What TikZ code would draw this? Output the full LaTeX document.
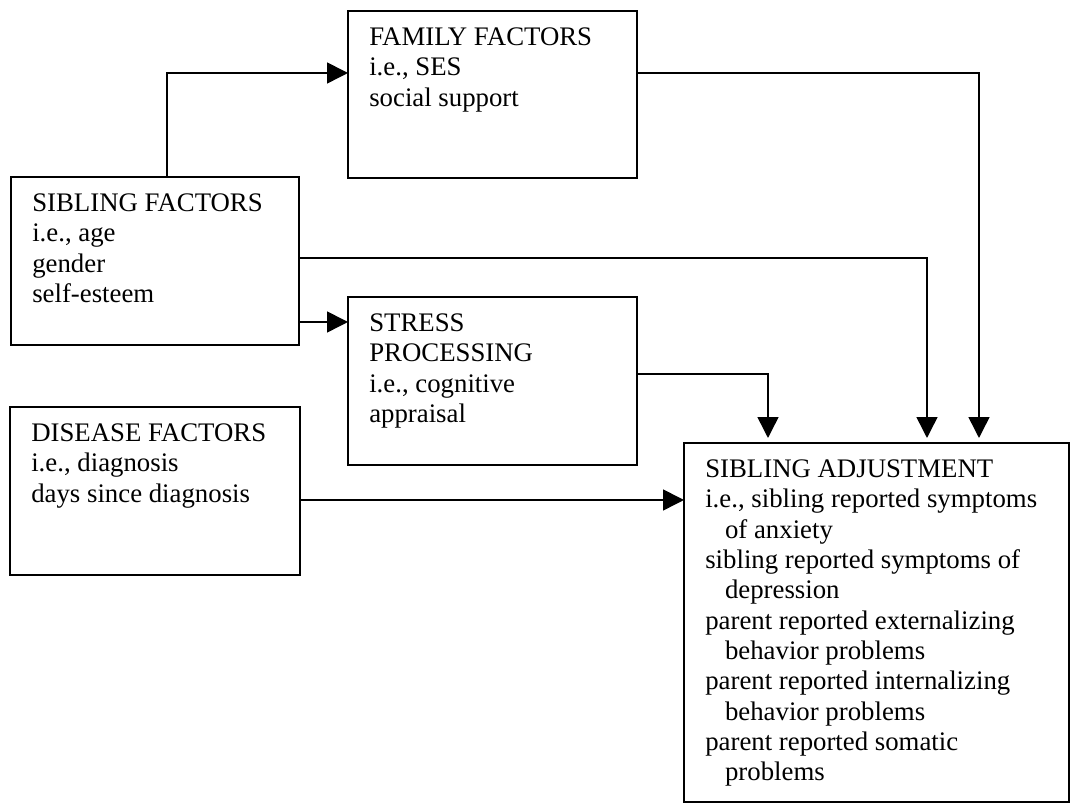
\documentclass[tikz,border=0pt]{standalone}
\usepackage{fontspec}
\setmainfont{Liberation Serif}
\usepackage{tikz}
\usetikzlibrary{arrows.meta,calc}

\tikzset{
  factor/.style={draw, line width=0.8pt, rectangle, inner sep=0pt, outer sep=0pt, anchor=north west},
  factortext/.style={anchor=north west, align=left, inner xsep=9.5pt, inner ysep=7.5pt, font=\fontsize{12.2}{13.8}\selectfont},
  link/.style={line width=0.7pt, -{Triangle[length=9.5pt,width=9.5pt]}}
}
\newcommand{\ind}{\hspace*{9pt}}

\begin{document}
\begin{tikzpicture}[x=0.016cm, y=-0.016cm]
\useasboundingbox (0,0) rectangle (1071,804);
%\draw (0,0) grid (1071,804);

% boxes
\node [factor, minimum width=4.624cm, minimum height=2.672cm] (fam) at (348,11) {};
\node [factortext] (famtext) at (fam.north west) {FAMILY FACTORS\\i.e., SES\\social support};

\node [factor, minimum width=4.608cm, minimum height=2.688cm] (sib) at (11,177) {};
\node [factortext] (sibtext) at (sib.north west) {SIBLING FACTORS\\i.e., age\\gender\\self-esteem};

\node [factor, minimum width=4.624cm, minimum height=2.688cm] (stress) at (348,297) {};
\node [factortext] (stresstext) at (stress.north west) {STRESS\\PROCESSING\\i.e., cognitive\\appraisal};

\node [factor, minimum width=4.64cm, minimum height=2.688cm] (dis) at (10,407) {};
\node [factortext] (distext) at (dis.north west) {DISEASE FACTORS\\i.e., diagnosis\\days since diagnosis};

\node [factor, minimum width=6.16cm, minimum height=5.744cm] (adj) at (684,443) {};
\node [factortext] (adjtext) at (adj.north west) {SIBLING ADJUSTMENT\\i.e., sibling reported symptoms\\\ind of anxiety\\sibling reported symptoms of\\\ind depression\\parent reported externalizing\\\ind behavior problems\\parent reported internalizing\\\ind behavior problems\\parent reported somatic\\\ind problems};

% paths
\draw [link] ($(sib.north west)+(156,0)$) |- ($(fam.north west)+(0,62)$);
\draw [link] ($(fam.north east)+(0,62)$) -| ($(adj.north west)+(295,-5)$);
\draw [link] ($(sib.north east)+(0,81)$) -| ($(adj.north west)+(243,-5)$);
\draw [link] ($(sib.north east)+(0,145)$) -- ($(stress.north west)+(0,25)$);
\draw [link] ($(stress.north east)+(0,77)$) -| ($(adj.north west)+(84,-5)$);
\draw [link] ($(dis.north east)+(0,93)$) -- ($(adj.north west)+(0,57)$);

\end{tikzpicture}
\end{document}
